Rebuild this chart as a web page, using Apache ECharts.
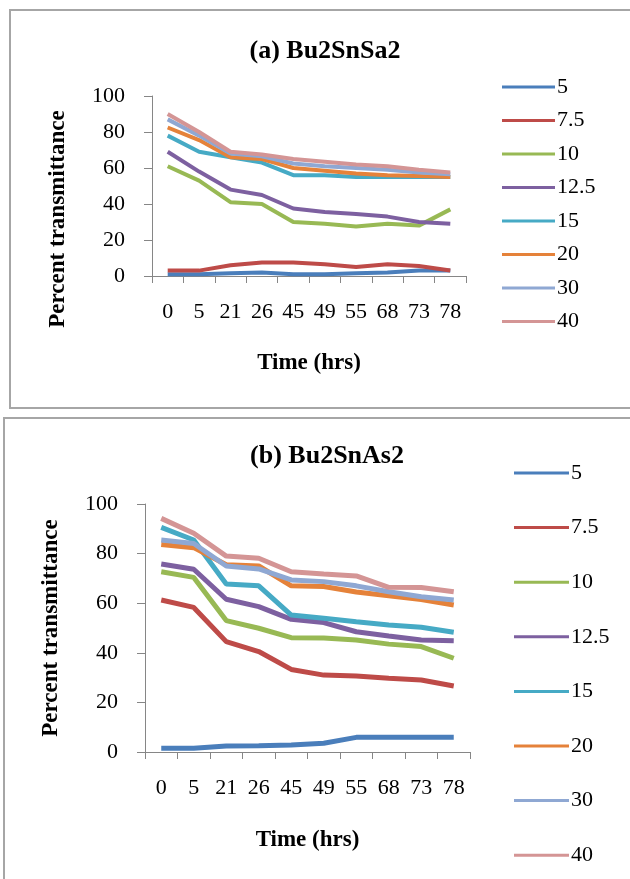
<!DOCTYPE html>
<html>
<head>
<meta charset="utf-8">
<script src="https://cdn.jsdelivr.net/npm/echarts@6/dist/echarts.min.js"></script>
<style>
html,body{margin:0;padding:0;background:#fff;}
#chart{width:630px;height:879px;}
</style>
</head>
<body>
<div id="chart"></div>
<script>
// Categories (time, hrs)
const categories = ['0','5','21','26','45','49','55','68','73','78'];
const seriesNames = ['5','7.5','10','12.5','15','20','30','40'];

// Panel (a) Bu2SnSa2
const a_5    = [1, 1, 1.5, 2, 1, 1, 1.5, 2, 3, 3];
const a_7_5  = [3, 3, 6, 7.5, 7.5, 6.5, 5, 6.5, 5.5, 3];
const a_10   = [61, 53, 41, 40, 30, 29, 27.5, 29, 28, 37];
const a_12_5 = [69, 58, 48, 45, 37.5, 35.5, 34.5, 33, 30, 29];
const a_15   = [78, 69, 66, 63, 56, 56, 55, 55, 55, 55];
const a_20   = [82.5, 75.5, 66, 65, 60, 58.5, 57, 56, 55.5, 55];
const a_30   = [87, 78, 68, 66.5, 62.5, 61, 60, 59, 57.5, 56.5];
const a_40   = [90, 80, 69, 67.5, 65, 63.5, 62, 61, 59, 57.5];

// Panel (b) Bu2SnAs2
const b_5    = [1.5, 1.5, 2.4, 2.5, 2.8, 3.5, 5.9, 5.9, 5.9, 5.9];
const b_7_5  = [61.3, 58.3, 44.5, 40.5, 33.3, 31, 30.6, 29.7, 29, 26.6];
const b_10   = [72.7, 70.4, 53, 49.9, 46.1, 46, 45.2, 43.5, 42.5, 37.8];
const b_12_5 = [75.8, 73.7, 61.6, 58.6, 53.5, 52.2, 48.5, 46.8, 45.2, 44.9];
const b_15   = [90.6, 85.5, 67.7, 67, 55.2, 53.9, 52.5, 51.2, 50.3, 48.3];
const b_20   = [83.7, 82.4, 75.5, 75, 67, 66.7, 64.5, 63, 61.5, 59.3];
const b_30   = [85.5, 84.1, 75, 73.8, 69.4, 68.7, 67, 64.6, 62.6, 61.3];
const b_40   = [94.2, 88.2, 79, 78.1, 72.7, 71.8, 71, 66.4, 66.3, 64.6];

const yTicks = [0, 20, 40, 60, 80, 100];

const colors = ['#4A7EBB','#BE4B48','#98B954','#7D60A0','#46AAC5','#E5823A','#8FA8D3','#D49595'];
const panelA = [a_5, a_7_5, a_10, a_12_5, a_15, a_20, a_30, a_40];
const panelB = [b_5, b_7_5, b_10, b_12_5, b_15, b_20, b_30, b_40];

const FONT = 'Liberation Serif';
const axisGray = '#868686';

function xAxis(gridIndex, nameGap){
  return {
    type: 'category', gridIndex, data: categories, boundaryGap: true,
    axisLine: {lineStyle: {color: axisGray, width: 1}},
    axisTick: {show: true, length: 7, lineStyle: {color: axisGray}},
    axisLabel: {color: '#000', fontFamily: FONT, fontSize: 22, margin: 25, interval: 0},
    name: 'Time (hrs)', nameLocation: 'middle', nameGap: nameGap,
    nameTextStyle: {color: '#000', fontFamily: FONT, fontSize: 23, fontWeight: 'bold'}
  };
}
function yAxis(gridIndex, nameGap, pad){
  return {
    type: 'value', gridIndex, min: yTicks[0], max: yTicks[yTicks.length-1], interval: 20,
    axisLine: {show: true, lineStyle: {color: axisGray, width: 1}},
    axisTick: {show: true, length: 8, lineStyle: {color: axisGray}},
    splitLine: {show: false},
    axisLabel: {color: '#000', fontFamily: FONT, fontSize: 22, margin: 27},
    name: 'Percent transmittance', nameLocation: 'middle', nameGap: nameGap,
    nameTextStyle: {color: '#000', fontFamily: FONT, fontSize: 23, fontWeight: 'bold', padding: pad}
  };
}

const series = [];
panelA.forEach((d, i) => series.push({
  name: seriesNames[i], type: 'line', xAxisIndex: 0, yAxisIndex: 0, data: d,
  showSymbol: false, symbol: 'none', lineStyle: {width: 4, color: colors[i]}, itemStyle: {color: colors[i]}
}));
panelB.forEach((d, i) => series.push({
  name: seriesNames[i], type: 'line', xAxisIndex: 1, yAxisIndex: 1, data: d,
  showSymbol: false, symbol: 'none', lineStyle: {width: 5, color: colors[i]}, itemStyle: {color: colors[i]}
}));

function legend(left, top, w, gap){
  return {
    orient: 'vertical', left, top, icon: 'rect', itemWidth: w, itemHeight: 3, itemGap: gap,
    data: seriesNames, selectedMode: false,
    textStyle: {color: '#000', fontFamily: FONT, fontSize: 22, lineHeight: 22, padding: [0,0,0,-3]}
  };
}

const chart = echarts.init(document.getElementById('chart'), null, {renderer: 'canvas'});
chart.setOption({
  backgroundColor: '#fff',
  animation: false,
  color: colors,
  textStyle: {fontFamily: FONT},
  title: [
    {text: '(a) Bu2SnSa2', left: 320, top: 33, textAlign: 'center',
     textStyle: {fontFamily: FONT, fontSize: 26, fontWeight: 'bold', color: '#000'}},
    {text: '(b) Bu2SnAs2', left: 322, top: 438, textAlign: 'center',
     textStyle: {fontFamily: FONT, fontSize: 26, fontWeight: 'bold', color: '#000'}}
  ],
  graphic: [
    {type: 'rect', shape: {x: 10, y: 10, width: 640, height: 398}, style: {fill: 'none', stroke: '#a6a6a6', lineWidth: 2}, silent: true},
    {type: 'rect', shape: {x: 4, y: 418, width: 640, height: 500}, style: {fill: 'none', stroke: '#a6a6a6', lineWidth: 2}, silent: true}
  ],
  grid: [
    {left: 152, top: 96, width: 314, height: 180},
    {left: 145, top: 504, width: 325, height: 248}
  ],
  xAxis: [xAxis(0, 76), xAxis(1, 77)],
  yAxis: [yAxis(0, 82, [0, 66, 0, 0]), yAxis(1, 82, [0, 0, 0, 0])],
  legend: [legend(497, 71, 53, 11.5), legend(509, 457, 55, 32.6)],
  series
});
</script>
</body>
</html>
